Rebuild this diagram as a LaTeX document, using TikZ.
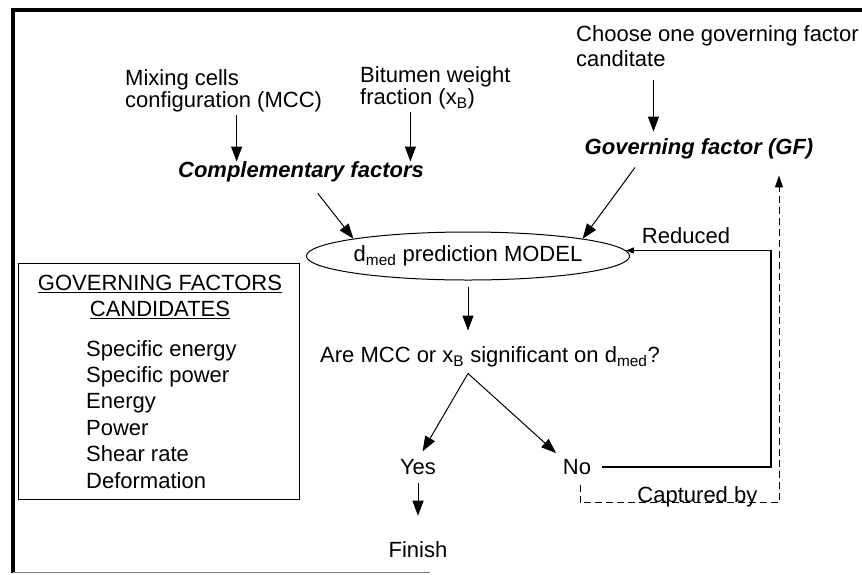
\documentclass[tikz,border=0pt]{standalone}
\usepackage{fontspec}
\setmainfont{Liberation Sans}
\usetikzlibrary{arrows.meta,shapes.geometric}

\begin{document}
\begin{tikzpicture}[
    x=1pt, y=-1pt,
    font=\fontsize{22}{25}\selectfont,
    txt/.style={
        inner sep=0pt,
        align=left
    },
    factor/.style={
        inner sep=0pt,
        font=\fontsize{22}{25}\selectfont\bfseries\itshape
    },
    model/.style={
        ellipse,
        draw,
        line width=1pt,
        minimum width=294pt,
        minimum height=48pt,
        inner sep=0pt
    },
    arrow/.style={-{Triangle[length=15pt,width=11pt]}, line width=1pt},
    back/.style={{Triangle[length=8pt,width=6pt]}-, line width=1.2pt},
    captured/.style={-{Triangle[length=12pt,width=8pt]}, line width=1pt, dash pattern=on 7pt off 4pt}
]

\useasboundingbox (0,0) rectangle (862,574);

% Frame
\draw[line width=3.5pt] (13,573) -- (13,10) -- (862,10);
\draw[gray, line width=1pt] (13,572) -- (430,572);

% Nodes
\node[txt, anchor=west] (choose) at (576,46) {Choose one governing factor\\canditate};
\node[factor] (gf) at (699,149) {Governing factor (GF)};

\node[txt, anchor=west, font=\fontsize{22}{22}\selectfont] (mcc) at (125,91) {Mixing cells\\configuration (MCC)};
\node[txt, anchor=west, font=\fontsize{22}{22}\selectfont] (xb) at (360,88) {Bitumen weight\\fraction (x\textsubscript{B})};
\node[factor] (comp) at (301,172) {Complementary factors};

\node[model] (model) at (468,256) {d\textsubscript{med} prediction MODEL};
\node[txt] (reduced) at (686,236) {Reduced};

\node[txt] (quest) at (490,357) {Are MCC or x\textsubscript{B} significant on d\textsubscript{med}?};
\node[txt] (yes) at (418,467) {Yes};
\node[txt] (no) at (577,467) {No};
\node[txt] (finish) at (418,550) {Finish};

\node[draw, line width=1pt, minimum width=281pt, minimum height=236pt, inner sep=0pt] (cand) at (158.5,381) {};
\node[txt, align=center, font=\fontsize{22}{26}\selectfont] (title) at (160,297) {\underline{GOVERNING FACTORS}\\\underline{CANDIDATES}};
\node[txt, anchor=north west, font=\fontsize{22}{26.4}\selectfont] (list) at (86,340) {Specific energy\\Specific power\\Energy\\Power\\Shear rate\\Deformation};

% Arrows
\draw[arrow, shorten <=13pt, shorten >=7pt] ([xshift=-64pt]choose.south) -- ([xshift=-64pt]choose.south |- gf.north);
\draw[arrow, shorten <=3pt] ([xshift=13pt]mcc.south) -- ([xshift=13pt]mcc.south |- comp.north);
\draw[arrow, shorten <=3pt] ([xshift=-25pt]xb.south) -- ([xshift=-25pt]xb.south |- comp.north);

\draw[arrow, shorten <=14pt] (comp) -- (model.north west);
\draw[arrow] ([xshift=-64pt,yshift=-8pt]gf.south) -- (model.north east);

\draw[arrow, shorten <=6pt, shorten >=16pt] (model.south) -- (model.south |- quest.north);
\coordinate (fork) at ([xshift=-22pt,yshift=-6pt]quest.south);
\draw[arrow, shorten >=9pt] (fork) -- (yes.north);
\draw[arrow, shorten >=9pt] (fork) -- (no.north west);
\draw[arrow, shorten <=8pt, shorten >=26pt] (yes.south) -- (finish.north);

% Loop back to the model
\draw[back] (model.2.4) -- ++(145,0) |- ([xshift=11pt]no.east);
\draw[captured, shorten >=16pt] ([xshift=3pt,yshift=-10pt]no.south) -- ++(0,18) -- ++(199,0)
    node[pos=0.59, anchor=base, inner sep=0pt] {Captured by} coordinate (cap) -- (cap |- gf.south);

\end{tikzpicture}
\end{document}
